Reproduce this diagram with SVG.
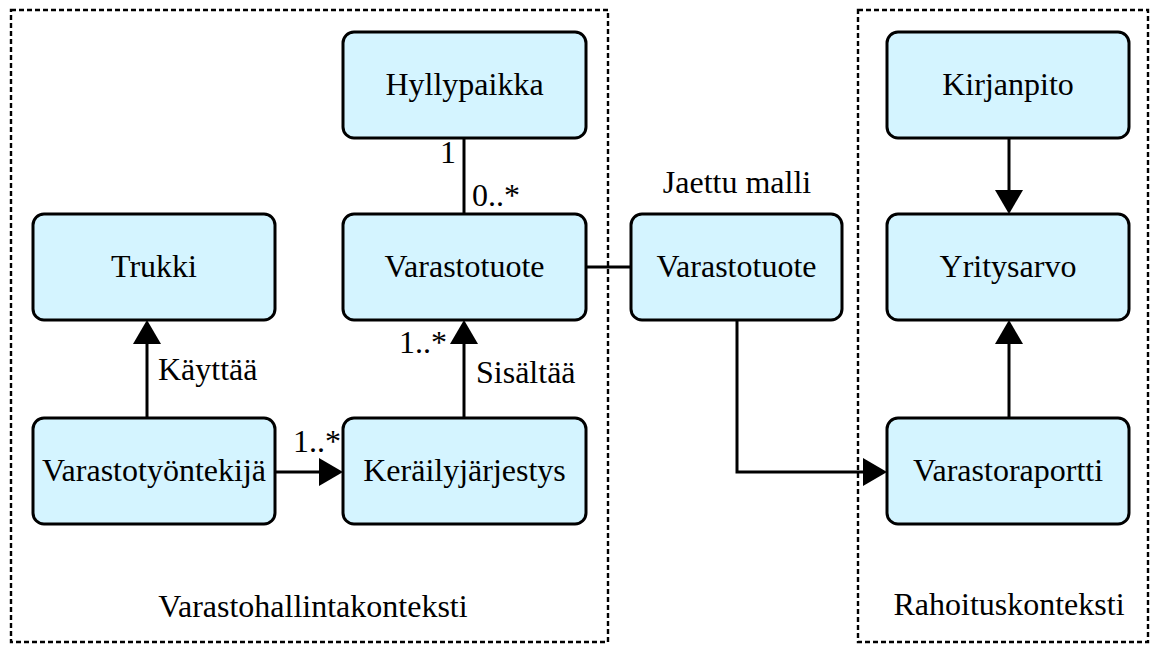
<svg xmlns="http://www.w3.org/2000/svg" width="1152" height="645" viewBox="0 0 1152 645">
  <style>
    .ctx { fill: none; stroke: #000; stroke-width: 2.4; stroke-dasharray: 5 3; }
    .node rect { fill: #d4f4ff; stroke: #000; stroke-width: 3; }
    text { font-family: "Liberation Serif", "Times New Roman", serif; font-size: 32px; fill: #000; }
    .c { text-anchor: middle; }
    .e { text-anchor: end; }
    .edge { fill: none; stroke: #000; stroke-width: 3; }
  </style>
  <defs>
    <marker id="arrow" markerUnits="userSpaceOnUse" markerWidth="26" markerHeight="30" refX="0" refY="0" orient="auto" overflow="visible">
      <path d="M0,-14 L24,0 L0,14 Z" fill="#000"/>
    </marker>
  </defs>

  <g id="contexts">
    <rect class="ctx" x="11" y="10" width="597" height="632"/>
    <rect class="ctx" x="858" y="10" width="290" height="632"/>
    <text class="c" x="313" y="617">Varastohallintakonteksti</text>
    <text class="c" x="1009" y="615">Rahoituskonteksti</text>
    <text class="c" x="737" y="193">Jaettu malli</text>
  </g>

  <g id="connectors">
    <path class="edge" d="M147,418 L147,344" marker-end="url(#arrow)"/>
    <path class="edge" d="M275,472 L319,472" marker-end="url(#arrow)"/>
    <path class="edge" d="M464,418 L464,344" marker-end="url(#arrow)"/>
    <path class="edge" d="M464,138 L464,214"/>
    <path class="edge" d="M586,267 L631,267"/>
    <path class="edge" d="M737,320 L737,472 L863,472" marker-end="url(#arrow)"/>
    <path class="edge" d="M1009,138 L1009,190" marker-end="url(#arrow)"/>
    <path class="edge" d="M1009,418 L1009,344" marker-end="url(#arrow)"/>
    <text x="158" y="380">Käyttää</text>
    <text class="e" x="341" y="452">1..*</text>
    <text x="476" y="383">Sisältää</text>
    <text class="e" x="447" y="353">1..*</text>
    <text class="e" x="456" y="163">1</text>
    <text x="472" y="206">0..*</text>
  </g>

  <g id="hyllypaikka" class="node">
    <rect x="343" y="32" width="243" height="106" rx="11"/>
    <text class="c" x="464.5" y="95">Hyllypaikka</text>
  </g>
  <g id="trukki" class="node">
    <rect x="33" y="214" width="242" height="106" rx="11"/>
    <text class="c" x="154" y="277">Trukki</text>
  </g>
  <g id="varastotuote" class="node">
    <rect x="343" y="214" width="243" height="106" rx="11"/>
    <text class="c" x="464.5" y="277">Varastotuote</text>
  </g>
  <g id="varastotyontekija" class="node">
    <rect x="33" y="418" width="242" height="106" rx="11"/>
    <text class="c" x="154" y="481">Varastotyöntekijä</text>
  </g>
  <g id="kerailyjarjestys" class="node">
    <rect x="343" y="418" width="243" height="106" rx="11"/>
    <text class="c" x="464.5" y="481">Keräilyjärjestys</text>
  </g>
  <g id="jaettu-varastotuote" class="node">
    <rect x="631" y="214" width="211" height="106" rx="11"/>
    <text class="c" x="736.5" y="277">Varastotuote</text>
  </g>
  <g id="kirjanpito" class="node">
    <rect x="887" y="32" width="242" height="106" rx="11"/>
    <text class="c" x="1008" y="95">Kirjanpito</text>
  </g>
  <g id="yritysarvo" class="node">
    <rect x="887" y="214" width="242" height="106" rx="11"/>
    <text class="c" x="1008" y="277">Yritysarvo</text>
  </g>
  <g id="varastoraportti" class="node">
    <rect x="887" y="418" width="242" height="106" rx="11"/>
    <text class="c" x="1008" y="481">Varastoraportti</text>
  </g>
</svg>
